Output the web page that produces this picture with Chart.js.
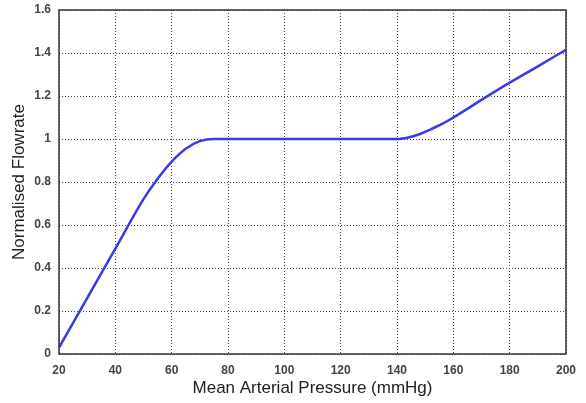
<!DOCTYPE html>
<html><head><meta charset="utf-8">
<script src="https://cdn.jsdelivr.net/npm/chart.js@4/dist/chart.umd.min.js"></script>
<style>html,body{margin:0;padding:0;background:#fff}#wrap{width:586px;height:403px}</style>
</head><body><div id="wrap"><canvas id="c" width="586" height="403"></canvas></div>
<script>
const pressure = [20,30,40,50,55,60,65,70,75,80,100,120,140,144,148,152,156,160,170,180,190,200];
const flowrate = [0.03,0.26,0.49,0.72,0.815,0.895,0.955,0.99,1.0,1.0,1.0,1.0,1.0,1.007,1.022,1.045,1.07,1.10,1.182,1.262,1.338,1.415];
const xTicks = [20,40,60,80,100,120,140,160,180,200];
const yTicks = [0,0.2,0.4,0.6,0.8,1,1.2,1.4,1.6];
const xTitle = 'Mean Arterial Pressure (mmHg)';
const yTitle = 'Normalised Flowrate';

const frame = {
  id:'frame',
  afterDatasetsDraw(ch){
    const a = ch.chartArea, ctx = ch.ctx;
    ctx.save(); ctx.strokeStyle='#333'; ctx.lineWidth=1.5;
    ctx.strokeRect(a.left, a.top, a.right-a.left, a.bottom-a.top);
    ctx.restore();
  }
};
const fam = '"Liberation Sans", Arial, sans-serif';
const font = {family:fam, size:12, weight:'bold'};
new Chart(document.getElementById('c'), {
  type:'line',
  data:{datasets:[{data:pressure.map((x,i)=>({x:x,y:flowrate[i]})), borderColor:'#3a3aeb', borderWidth:2.5, pointRadius:0, cubicInterpolationMode:'monotone', fill:false}]},
  options:{
    responsive:false, animation:false,
    layout:{padding:{top:10,right:20,left:5,bottom:0}},
    plugins:{legend:{display:false},tooltip:{enabled:false}},
    scales:{
      x:{type:'linear', min:20, max:200,
        afterBuildTicks(s){s.ticks = xTicks.map(v=>({value:v}));},
        afterFit(s){s.height=49; s.paddingLeft=0; s.paddingRight=0;},
        grid:{color:'#444', drawTicks:false, lineWidth:1},
        border:{display:false, dash:[1,2]},
        ticks:{padding:9, color:'#444', font:font, maxRotation:0},
        title:{display:true, text:xTitle, color:'#222', font:{family:fam, size:17}, padding:{top:3}}
      },
      y:{type:'linear', min:0, max:1.6,
        afterBuildTicks(s){s.ticks = yTicks.map(v=>({value:v}));},
        afterFit(s){s.width=54; s.paddingTop=0; s.paddingBottom=0;},
        grid:{color:'#444', drawTicks:false, lineWidth:1},
        border:{display:false, dash:[1,2]},
        ticks:{padding:8, color:'#444', font:font, callback:v=>String(v)},
        title:{display:true, text:yTitle, color:'#222', font:{family:fam, size:17}, padding:{bottom:0}}
      }
    }
  },
  plugins:[frame]
});
</script></body></html>
